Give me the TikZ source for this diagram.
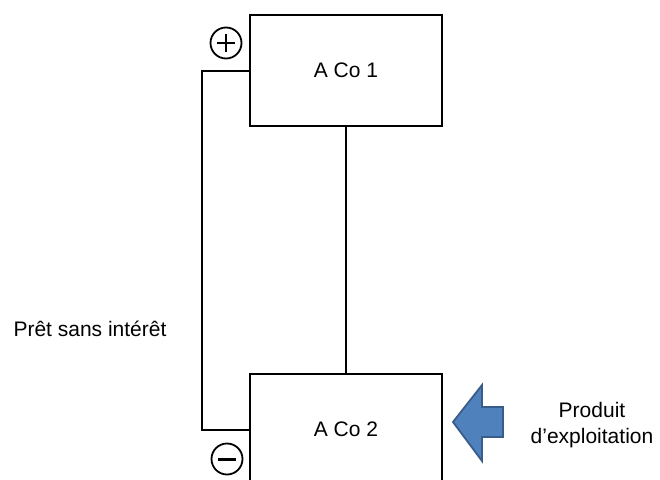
\documentclass[tikz,border=0pt]{standalone}
\usepackage{fontspec}
\setmainfont{Liberation Sans}
\begin{document}
\begin{tikzpicture}[x=1pt,y=-1pt,
  box/.style={draw,line width=2.2pt,minimum width=192pt,minimum height=111pt,inner sep=0pt,font=\fontsize{21}{24}\selectfont},
  wire/.style={line width=2pt},
  lbl/.style={font=\fontsize{21}{26}\selectfont,align=center,inner sep=0pt},
  sign/.style={draw,circle,line width=1.8pt,minimum size=31pt,inner sep=0pt},
  bigarrow/.style={fill={rgb,255:red,79;green,129;blue,189},draw={rgb,255:red,56;green,93;blue,138},line width=1.8pt,line join=miter}]
\useasboundingbox (0,0) rectangle (660,479);
\clip (0,0) rectangle (660,479);
\node[box] (b1) at (346,70.5) {A Co 1};
\node[box] (b2) at (346,429.5) {A Co 2};
\draw[wire] (b1.south) -- (b2.north);
\coordinate (lc) at (202,70.5);
\draw[wire] (b1.west) -- (lc) |- (b2.west);
\node[sign] (plus) at (226,43) {};
\draw[line width=2.6pt] ([xshift=-9pt]plus.center) -- ([xshift=9pt]plus.center)
  ([yshift=-9pt]plus.center) -- ([yshift=9pt]plus.center);
\node[sign] (minus) at (227,459) {};
\draw[line width=3pt] ([xshift=-9pt]minus.center) -- ([xshift=9pt]minus.center);
\node[lbl] (loan) at (90,329) {Prêt sans intérêt};
\node[lbl] (prod) at (592,425) {Produit\\d’exploitation};
\draw[bigarrow] (453,422) coordinate (tip) -- (482,385) -- (482,407) -- (503,407) -- (503,437) -- (482,437) -- (482,461) -- cycle;
\end{tikzpicture}
\end{document}
